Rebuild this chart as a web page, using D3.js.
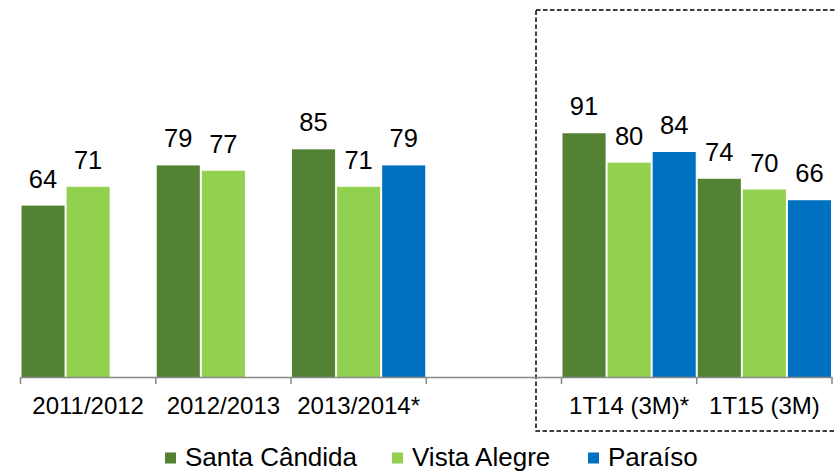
<!DOCTYPE html>
<html>
<head>
<meta charset="utf-8">
<script src="https://cdn.jsdelivr.net/npm/d3@7"></script>
<style>
  body { margin: 0; background: #fff; }
  svg { display: block; font-family: Arial, "Liberation Sans", sans-serif; }
</style>
</head>
<body>
<script>
// chart data
const categories = ["2011/2012", "2012/2013", "2013/2014*", "", "1T14 (3M)*", "1T15 (3M)"];
const seriesNames = ["Santa Cândida", "Vista Alegre", "Paraíso"];
const santaCandida = [64, 79, 85, null, 91, 74];
const vistaAlegre = [71, 77, 71, null, 80, 70];
const paraiso = [null, null, 79, null, 84, 66];

const colors = ["#548235", "#92D050", "#0070C0"];

const width = 836;
const height = 471;

const values = [santaCandida, vistaAlegre, paraiso];

const svg = d3.create("svg")
  .attr("width", width)
  .attr("height", height)
  .attr("viewBox", [0, 0, width, height]);

const x = d3.scaleBand()
  .domain(d3.range(categories.length))
  .range([20.5, 832])
  .padding(0);

const xs = d3.scaleBand()
  .domain(seriesNames)
  .range([0, x.bandwidth()])
  .padding(0);

const y = d3.scaleLinear()
  .domain([0, 140])
  .range([377, 2]);

// dashed box around quarterly figures
svg.append("rect")
  .attr("x", 536)
  .attr("y", 10)
  .attr("width", 320)
  .attr("height", 421)
  .attr("fill", "none")
  .attr("stroke", "#000")
  .attr("stroke-width", 1.5)
  .attr("stroke-dasharray", "4.5,2.5");

const bars = [];
values.forEach((arr, s) => {
  arr.forEach((v, i) => {
    if (v != null) bars.push({ s, i, v, name: seriesNames[s] });
  });
});

svg.append("g")
  .selectAll("rect")
  .data(bars)
  .join("rect")
  .attr("x", d => x(d.i) + xs(d.name) + 1)
  .attr("width", xs.bandwidth() - 2)
  .attr("y", d => y(d.v))
  .attr("height", d => y(0) - y(d.v))
  .attr("fill", d => colors[d.s]);

svg.append("g")
  .selectAll("text")
  .data(bars)
  .join("text")
  .attr("x", d => x(d.i) + xs(d.name) + xs.bandwidth() / 2)
  .attr("y", d => y(d.v) - 18)
  .attr("text-anchor", "middle")
  .attr("font-size", 25.5)
  .attr("fill", "#000")
  .text(d => d.v);

// x axis
const axis = svg.append("g")
  .attr("transform", `translate(0,${y(0)})`)
  .call(d3.axisBottom(x).tickSize(0).tickFormat(i => categories[i]));
axis.select(".domain").attr("stroke", "#898989").attr("stroke-width", 1.5);
axis.selectAll("text")
  .attr("font-size", 24)
  .attr("fill", "#000")
  .attr("dy", null)
  .attr("y", 37);

const edges = x.domain().map(i => x(i)).concat([x.range()[1]]);
axis.selectAll(".edge")
  .data(edges)
  .join("line")
  .attr("class", "edge")
  .attr("x1", d => d)
  .attr("x2", d => d)
  .attr("y1", 0)
  .attr("y2", 7)
  .attr("stroke", "#898989")
  .attr("stroke-width", 1.5);

// legend
const legendX = [165, 392, 588];
const legend = svg.append("g")
  .selectAll("g")
  .data(seriesNames)
  .join("g")
  .attr("transform", (d, i) => `translate(${legendX[i]},0)`);

legend.append("rect")
  .attr("y", 452.5)
  .attr("width", 11)
  .attr("height", 11)
  .attr("fill", (d, i) => colors[i]);

legend.append("text")
  .attr("x", 20)
  .attr("y", 466)
  .attr("font-size", 26)
  .attr("fill", "#000")
  .text(d => d);

document.body.appendChild(svg.node());
</script>
</body>
</html>
